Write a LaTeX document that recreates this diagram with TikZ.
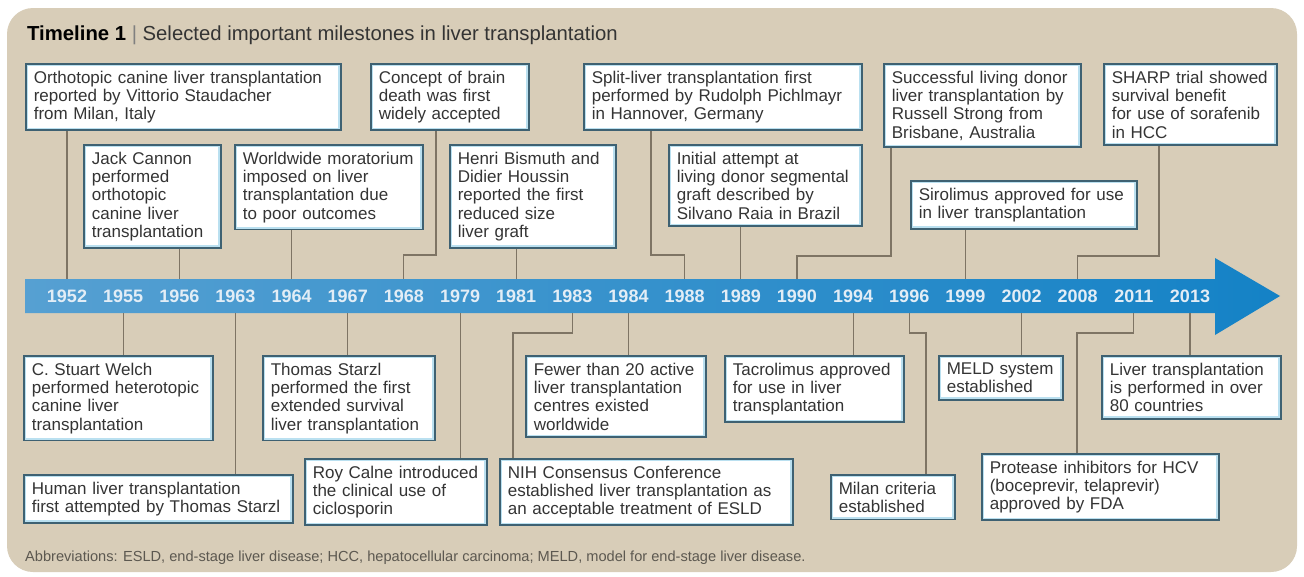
\documentclass[tikz,border=0pt]{standalone}
\usepackage{fontspec}
\setmainfont{Liberation Sans}
\usetikzlibrary{calc}
\definecolor{sand}{RGB}{216,205,184}
\definecolor{boxedge}{RGB}{62,97,114}
\definecolor{boxglow}{RGB}{186,224,240}
\definecolor{stemgrey}{RGB}{126,116,100}
\definecolor{bandleft}{RGB}{86,160,210}
\definecolor{bandright}{RGB}{20,130,198}
\definecolor{yeartext}{RGB}{226,237,246}
\definecolor{inktext}{RGB}{52,52,52}
\definecolor{notegrey}{RGB}{92,88,80}

\begin{document}
\begin{tikzpicture}[x=1pt, y=-1pt,
	milestone/.style={anchor=north west, draw=boxedge, line width=1.6pt, fill=white,
		inner xsep=8pt, inner ysep=7pt, align=left, text=inktext,
		font=\fontsize{17}{18.3}\selectfont,
		path picture={\draw[boxglow, line width=5pt] (path picture bounding box.south west) rectangle (path picture bounding box.north east);}},
	year/.style={minimum height=34pt, inner sep=0pt, text=yeartext, font=\fontsize{18}{18}\selectfont\bfseries},
	stemline/.style={draw=stemgrey, line width=1.1pt}]
			%%%%% START %%%%%
			
			\useasboundingbox (0,0) rectangle (1304,576);
			\fill[white] (0,0) rectangle (1304,576);
			\fill[sand, rounded corners=26pt] (7,8) rectangle (1297,572);
			
			\node[anchor=base west, inner sep=0pt, text=inktext, font=\fontsize{20.3}{20.3}\selectfont] (title) at (27,40)
				{\textbf{\color{black}Timeline 1} {\color{gray}|} Selected important milestones in liver transplantation};
			
			% the time band
			\shade[left color=bandleft, right color=bandright] (25,279) -- (1215,279) -- (1215,258) -- (1280,296)
				-- (1215,335) -- (1215,313) -- (25,313) -- cycle;
			\foreach \yr [count=\i from 0] in {1952,1955,1956,1963,1964,1967,1968,1979,1981,1983,1984,1988,1989,1990,1994,1996,1999,2002,2008,2011,2013}
				\node[year] (y\yr) at ({67+56.15*\i},296) {\yr};
			
			% above the band
			\node[milestone, text width=299pt] (orth) at (25,63) {Orthotopic canine liver transplantation\\reported by Vittorio Staudacher\\from Milan, Italy};
			\node[milestone, text width=121pt] (cannon) at (83,144) {Jack Cannon\\performed\\orthotopic\\canine liver\\transplantation};
			\node[milestone, text width=172pt] (morat) at (234,144) {Worldwide moratorium\\imposed on liver\\transplantation due\\to poor outcomes};
			\node[milestone, text width=142pt] (brain) at (370,63) {Concept of brain\\death was first\\widely accepted};
			\node[milestone, text width=150pt] (bismuth) at (449,144) {Henri Bismuth and\\Didier Houssin\\reported the first\\reduced size\\liver graft};
			\node[milestone, text width=262pt] (split) at (583,63) {Split-liver transplantation first\\performed by Rudolph Pichlmayr\\in Hannover, Germany};
			\node[milestone, text width=177pt] (raia) at (668,144) {Initial attempt at\\living donor segmental\\graft described by\\Silvano Raia in Brazil};
			\node[milestone, text width=181pt] (strong) at (883,63) {Successful living donor\\liver transplantation by\\Russell Strong from\\Brisbane, Australia};
			\node[milestone, text width=157pt] (sharp) at (1103,63) {SHARP trial showed\\survival benefit\\for use of sorafenib\\in HCC};
			\node[milestone, text width=210pt] (siro) at (910,180) {Sirolimus approved for use\\in liver transplantation};
			
			\draw[stemline] (orth.south -| y1952) -- (y1952.north);
			\draw[stemline] (cannon.south -| y1956) -- (y1956.north);
			\draw[stemline] (morat.south -| y1964) -- (y1964.north);
			\draw[stemline] (brain.south -| 436,0) -- (436,255) -| (y1968.north);
			\draw[stemline] (bismuth.south -| y1981) -- (y1981.north);
			\draw[stemline] (split.south -| 651,0) -- (651,255) -| (y1988.north);
			\draw[stemline] (raia.south -| y1989) -- (y1989.north);
			\draw[stemline] (strong.south -| 891,0) -- (891,256) -| (y1990.north);
			\draw[stemline] (siro.south -| y1999) -- (y1999.north);
			\draw[stemline] (sharp.south -| 1159,0) -- (1159,256) -| (y2008.north);
			
			% below the band
			\node[milestone, text width=173pt] (welch) at (23,355) {C. Stuart Welch\\performed heterotopic\\canine liver\\transplantation};
			\node[milestone, text width=253pt] (human) at (23,474) {Human liver transplantation\\first attempted by Thomas Starzl};
			\node[milestone, text width=156pt] (starzl) at (262,355) {Thomas Starzl\\performed the first\\extended survival\\liver transplantation};
			\node[milestone, text width=166pt] (calne) at (304,458) {Roy Calne introduced\\the clinical use of\\ciclosporin};
			\node[milestone, text width=164pt] (fewer) at (525,355) {Fewer than 20 active\\liver transplantation\\centres existed\\worldwide};
			\node[milestone, text width=277pt] (nih) at (499,458) {NIH Consensus Conference\\established liver transplantation as\\an acceptable treatment of ESLD};
			\node[milestone, text width=163pt] (tacro) at (724,355) {Tacrolimus approved\\for use in liver\\transplantation};
			\node[milestone, text width=108pt] (milan) at (830,474) {Milan criteria\\established};
			\node[milestone, text width=108pt] (meld) at (938,355) {MELD system\\established};
			\node[milestone, text width=221pt] (protease) at (981,453) {Protease inhibitors for HCV\\(boceprevir, telaprevir)\\approved by FDA};
			\node[milestone, text width=163pt] (countries) at (1101,355) {Liver transplantation\\is performed in over\\80 countries};
			
			\draw[stemline] (y1955.south) -- (welch.north -| y1955);
			\draw[stemline] (y1963.south) -- (human.north -| y1963);
			\draw[stemline] (y1967.south) -- (starzl.north -| y1967);
			\draw[stemline] (y1979.south) -- (calne.north -| y1979);
			\draw[stemline] (y1983.south) -- (y1983.south |- 0,333) -| (nih.north -| 513,0);
			\draw[stemline] (y1984.south) -- (fewer.north -| y1984);
			\draw[stemline] (y1994.south) -- (tacro.north -| y1994);
			\draw[stemline] (y1996.south) -- (y1996.south |- 0,333) -| (milan.north -| 926,0);
			\draw[stemline] (y2002.south) -- (meld.north -| y2002);
			\draw[stemline] (y2011.south) -- (y2011.south |- 0,333) -| (protease.north -| 1077,0);
			\draw[stemline] (y2013.south) -- (countries.north -| y2013);
			
			\node[anchor=base west, inner sep=0pt, text=notegrey, font=\fontsize{14.6}{14.6}\selectfont] (abbrev) at (25,561)
				{Abbreviations: ESLD, end-stage liver disease; HCC, hepatocellular carcinoma; MELD, model for end-stage liver disease.};
			
			%%%%% END %%%%%
\end{tikzpicture}
\end{document}
